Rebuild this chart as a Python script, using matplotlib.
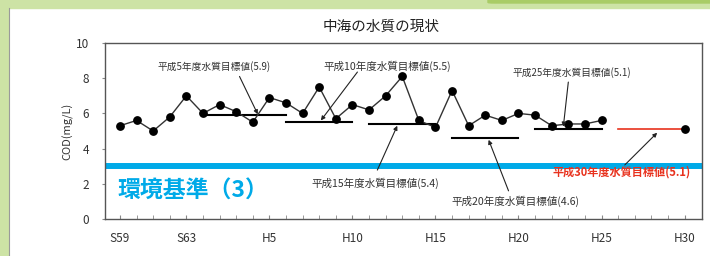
import matplotlib
matplotlib.use("Agg")
import matplotlib.pyplot as plt
from matplotlib.patches import Rectangle, FancyBboxPatch

plt.rcParams['font.family'] = ['Noto Sans CJK JP', 'DejaVu Sans']

# ---- data ----
years = list(range(1984, 2014))
cod = [5.3, 5.6, 5.0, 5.8, 7.0, 6.0, 6.5, 6.1, 5.5, 6.9,
       6.6, 6.0, 7.5, 5.7, 6.5, 6.2, 7.0, 8.1, 5.6, 5.2,
       7.3, 5.3, 5.9, 5.6, 6.0, 5.9, 5.3, 5.4, 5.4, 5.6]
year_2018 = [2018]
cod_2018 = [5.1]

goal_start = [1989, 1994, 1999, 2004, 2009]
goal_end = [1994, 1998, 2003, 2008, 2013]
goal_val = [5.9, 5.5, 5.4, 4.6, 5.1]
goal_labels = ['平成5年度水質目標値(5.9)', '平成10年度水質目標値(5.5)',
               '平成15年度水質目標値(5.4)', '平成20年度水質目標値(4.6)',
               '平成25年度水質目標値(5.1)']
red_start, red_end, red_val = 2014, 2018, 5.1
red_label = '平成30年度水質目標値(5.1)'
standard = 3
standard_label = '環境基準（3）'

tick_years = [1984, 1988, 1993, 1998, 2003, 2008, 2013, 2018]
tick_labels = ['S59', 'S63', 'H5', 'H10', 'H15', 'H20', 'H25', 'H30']
title = '中海の水質の現状'
ylabel = 'COD(mg/L)'

# ---- figure ----
W, H = 710, 256
fig = plt.figure(figsize=(W / 100, H / 100), dpi=100)

# background decoration
green = '#cde3a5'
fig.patches.append(Rectangle((0, 0), 8 / W, 1, transform=fig.transFigure,
                             color=green, zorder=0))
fig.patches.append(Rectangle((0, 1 - 8 / H), 1, 8 / H, transform=fig.transFigure,
                             color=green, zorder=0))
fig.patches.append(FancyBboxPatch((488 / W, 1 - 3 / H), 230 / W, 6 / H,
                                  boxstyle='round,pad=0,rounding_size=0.008',
                                  transform=fig.transFigure, color='#a9cc66',
                                  zorder=0, mutation_aspect=0.3))
fig.lines.append(plt.Line2D([8.5 / W, 8.5 / W], [0, 1 - 8 / H],
                            transform=fig.transFigure, color='#9a9a9a', lw=0.8))

ax = fig.add_axes([105 / W, 37 / H, 597 / W, 176 / H])
ax.set_xlim(1983.1, 2019.05)
ax.set_ylim(0, 10)

# environmental standard
ax.axhline(standard, color='#00aae8', lw=4.3, zorder=1)
ax.text(1983.85, 1.6, standard_label, color='#00aae8', fontsize=16.5,
        fontweight='bold', ha='left', va='center')

# goal lines
for s, e, v in zip(goal_start, goal_end, goal_val):
    ax.plot([s, e], [v, v], color='black', lw=1.5, zorder=2)
ax.plot([red_start, red_end], [red_val, red_val], color='#e8321e', lw=1.2, zorder=2)

# series
ax.plot(years, cod, color='#333333', lw=1.0, marker='o', ms=5.3,
        mfc='black', mec='black', zorder=3)
ax.plot(year_2018, cod_2018, color='#333333', marker='o', ms=5.3,
        mfc='black', mec='black', ls='none', zorder=3)

# annotations: (text position, fontsize, arrow tail, arrow head)
ann = [
    ((1989.66, 8.69), 7.0, (1991.2, 8.1), (1992.3, 5.95)),
    ((2000.1, 8.69), 7.6, (1998.3, 8.35), (1996.1, 5.6)),
    ((1999.4, 2.05), 7.6, (1999.5, 2.78), (2000.7, 5.3)),
    ((2007.8, 1.02), 7.6, (2007.4, 1.6), (2006.2, 4.5)),
    ((2011.2, 8.30), 7.0, (2011.0, 7.78), (2010.7, 5.25)),
]
aprops = dict(arrowstyle='-|>', color='#222222', lw=0.8, mutation_scale=6,
              shrinkA=0, shrinkB=0)
for lab, (tp, fs, tail, head) in zip(goal_labels, ann):
    ax.text(tp[0], tp[1], lab, fontsize=fs, color='#333333',
            ha='center', va='center')
    ax.annotate('', xy=head, xytext=tail, arrowprops=aprops)

ax.text(2014.2, 2.67, red_label, fontsize=8, color='#e8321e', fontweight='bold',
        ha='center', va='center')
ax.annotate('', xy=(2016.35, 4.9), xytext=(2014.4, 3.07), arrowprops=aprops)

# axes styling
for sp in ax.spines.values():
    sp.set_color('#555555')
    sp.set_linewidth(1.0)
ax.set_xticks(tick_years)
ax.set_xticklabels(tick_labels)
ax.set_xticks(list(range(1984, 2019)), minor=True)
ax.tick_params(axis='x', which='both', direction='in', length=3,
               color='#888888', labelsize=8.5, labelcolor='#333333', pad=9)
ax.set_yticks([0, 2, 4, 6, 8, 10])
ax.tick_params(axis='y', direction='out', length=2.5, color='#888888',
               labelsize=8.5, labelcolor='#333333', pad=9)
ax.set_ylabel(ylabel, fontsize=8, color='#333333', labelpad=2)

fig.text(381 / W, 1 - 27 / H, title, fontsize=10.5, color='#222222',
         ha='center', va='center')

fig.savefig('out.png', dpi=100)
